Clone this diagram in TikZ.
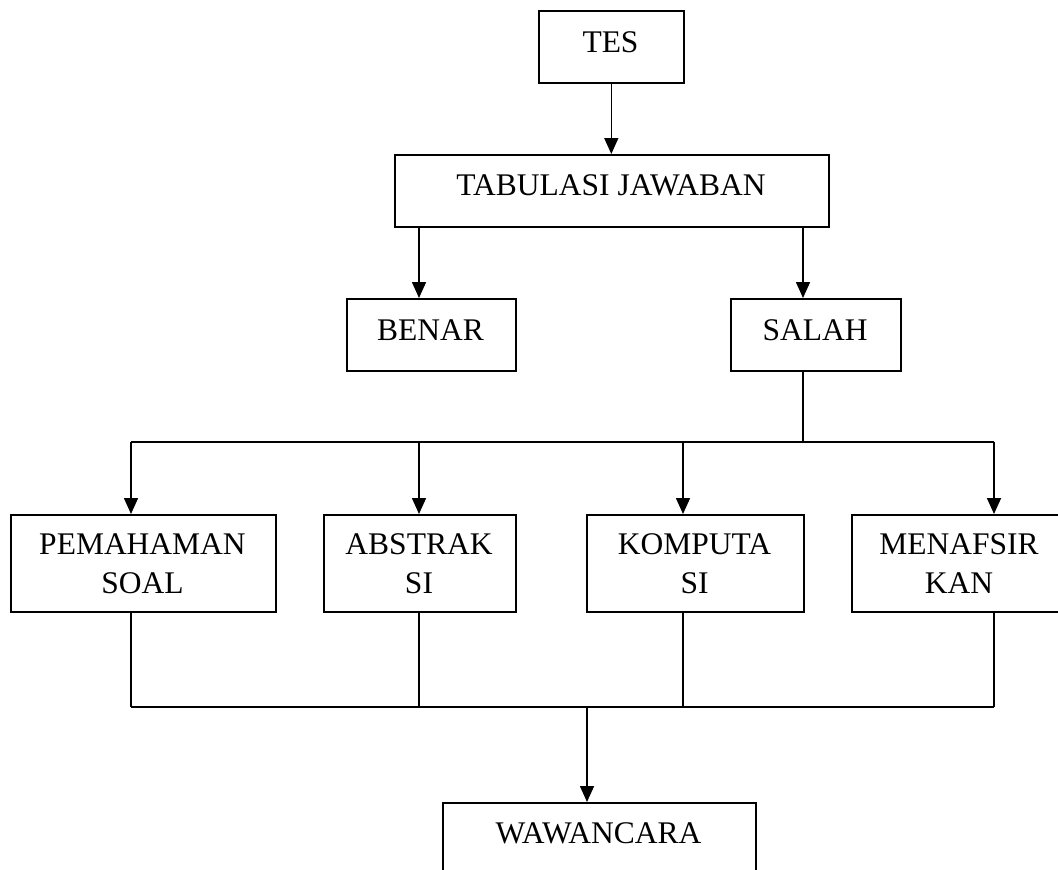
\documentclass[tikz,border=0pt]{standalone}
\usepackage{fontspec}
\setmainfont{Liberation Serif}
\usetikzlibrary{arrows.meta}
\tikzset{
  box/.style={draw, line width=1.6pt, inner sep=0pt, anchor=north west},
  txt/.style={anchor=base, inner sep=0pt, font=\fontsize{31.5}{39}\selectfont},
  arr/.style={line width=1.6pt, -{Triangle[length=16pt,width=14pt]}},
  ln/.style={line width=1.6pt},
}
\newcommand{\twolines}[2]{\begin{tabular}[t]{@{}c@{}}#1\\#2\end{tabular}}
\begin{document}
\begin{tikzpicture}[x=1pt,y=-1pt]
\useasboundingbox (0,0) rectangle (1058,870);
\clip (0,0) rectangle (1058,870);
% boxes
\node[box, minimum width=145pt, minimum height=72pt] (tes) at (538,10) {};
\node[box, minimum width=434pt, minimum height=72pt] (tab) at (394,154) {};
\node[box, minimum width=169pt, minimum height=72pt] (benar) at (346,298) {};
\node[box, minimum width=170pt, minimum height=72pt] (salah) at (730,298) {};
\node[box, minimum width=265pt, minimum height=97pt] (pem) at (10,514) {};
\node[box, minimum width=192pt, minimum height=97pt] (abs) at (323,514) {};
\node[box, minimum width=217pt, minimum height=97pt] (kom) at (586,514) {};
\node[box, minimum width=216pt, minimum height=97pt] (men) at (851,514) {};
\node[box, minimum width=313pt, minimum height=110pt] (waw) at (442,802) {};
% texts
\node[txt] (tes-t) at (610.5,52) {TES};
\node[txt] (tab-t) at (611,195) {TABULASI JAWABAN};
\node[txt] (benar-t) at (430.5,340) {BENAR};
\node[txt] (salah-t) at (815,340) {SALAH};
\node[txt] (pem-t) at (142.5,554) {\twolines{PEMAHAMAN}{SOAL}};
\node[txt] (abs-t) at (419,554) {\twolines{ABSTRAK}{SI}};
\node[txt] (kom-t) at (694.5,554) {\twolines{KOMPUTA}{SI}};
\node[txt] (men-t) at (959,554) {\twolines{MENAFSIR}{KAN}};
\node[txt] (waw-t) at (598.5,843) {WAWANCARA};
% coordinates
\coordinate (xb) at (419,0);
\coordinate (xs) at (803,0);
\coordinate (ta) at (131,442);
\coordinate (tb) at (419,442);
\coordinate (tc) at (683,442);
\coordinate (td) at (994,442);
\coordinate (ts) at (803,442);
\coordinate (ba) at (131,707);
\coordinate (bb) at (419,707);
\coordinate (bc) at (683,707);
\coordinate (bd) at (994,707);
\coordinate (bw) at (587,707);
% connectors
\draw[arr] (tes.south) -- (tes.south |- tab.north);
\draw[arr] (tab.south -| xb) -- (benar.north -| xb);
\draw[arr] (tab.south -| xs) -- (salah.north -| xs);
\draw[ln] (salah.south -| ts) -- (ts);
\draw[ln] (ta) -- (td);
\draw[arr] (ta) -- (ta |- pem.north);
\draw[arr] (tb) -- (tb |- abs.north);
\draw[arr] (tc) -- (tc |- kom.north);
\draw[arr] (td) -- (td |- men.north);
\draw[ln] (pem.south -| ba) -- (ba);
\draw[ln] (abs.south -| bb) -- (bb);
\draw[ln] (kom.south -| bc) -- (bc);
\draw[ln] (men.south -| bd) -- (bd);
\draw[ln] (ba) -- (bd);
\draw[arr] (bw) -- (bw |- waw.north);
\end{tikzpicture}
\end{document}
